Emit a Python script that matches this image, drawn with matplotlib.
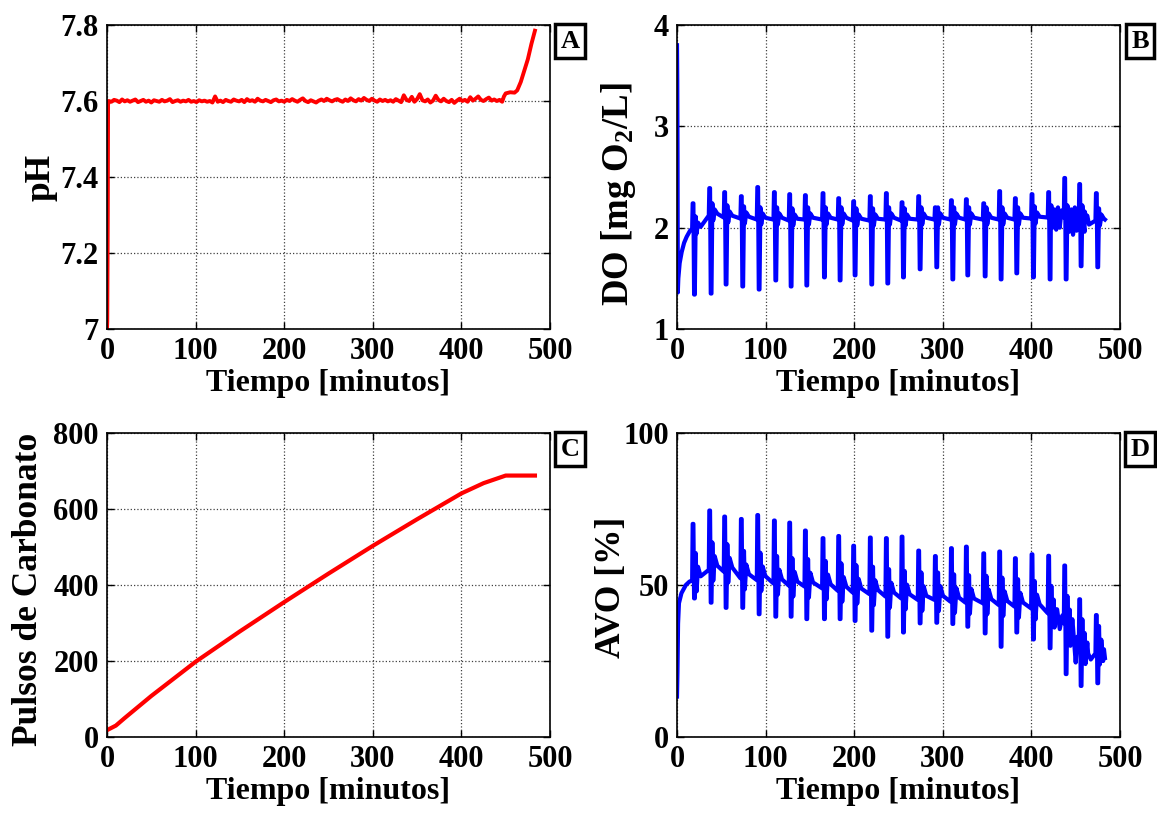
import numpy as np
import matplotlib
matplotlib.use('Agg')
import matplotlib.pyplot as plt
from matplotlib.ticker import FormatStrFormatter

plt.rcParams['font.family'] = 'Liberation Serif'
plt.rcParams['font.weight'] = 'bold'
plt.rcParams['mathtext.fontset'] = 'custom'
plt.rcParams['mathtext.rm'] = 'Liberation Serif:bold'
plt.rcParams['mathtext.it'] = 'Liberation Serif:bold'
plt.rcParams['mathtext.bf'] = 'Liberation Serif:bold'

# ---- pH (panel A) ----
ph_start_t = [0.0, 0.3, 0.9, 1.2]
ph_start_v = [7.00, 7.02, 7.31, 7.59]
ph_noise_t = list(range(2, 447, 3))
ph_noise_v = [7.600, 7.598, 7.603, 7.601, 7.597, 7.604, 7.599, 7.602, 7.598, 7.601,
              7.604, 7.597, 7.600, 7.603, 7.598, 7.601, 7.596, 7.602, 7.600, 7.598,
              7.603, 7.599, 7.601, 7.605, 7.597, 7.600, 7.602, 7.598, 7.601, 7.599,
              7.603, 7.598, 7.600, 7.597, 7.602, 7.599, 7.601, 7.598, 7.600, 7.596,
              7.612, 7.598, 7.601, 7.597, 7.603, 7.600, 7.598, 7.604, 7.601, 7.599,
              7.603, 7.597, 7.605, 7.600, 7.602, 7.598, 7.606, 7.601, 7.599, 7.603,
              7.600, 7.597, 7.602, 7.604, 7.599, 7.601, 7.598, 7.603, 7.600, 7.605,
              7.601, 7.598, 7.603, 7.607, 7.600, 7.597, 7.602, 7.599, 7.596, 7.601,
              7.604, 7.600, 7.606, 7.602, 7.599, 7.603, 7.605, 7.601, 7.598, 7.604,
              7.600, 7.607, 7.602, 7.599, 7.605, 7.601, 7.608, 7.603, 7.600, 7.606,
              7.601, 7.598, 7.604, 7.600, 7.603, 7.599, 7.602, 7.598, 7.605, 7.601,
              7.597, 7.615, 7.603, 7.600, 7.611, 7.598, 7.605, 7.618, 7.602, 7.599,
              7.604, 7.596, 7.601, 7.614, 7.603, 7.599, 7.606, 7.600, 7.597, 7.603,
              7.595, 7.601, 7.606, 7.600, 7.603, 7.598, 7.610, 7.601, 7.606, 7.612,
              7.603, 7.600, 7.605, 7.609, 7.601, 7.604, 7.600, 7.603, 7.598]
ph_end_t = [448, 450, 455, 460, 463, 467, 471, 475, 479, 483]
ph_end_v = [7.612, 7.620, 7.623, 7.622, 7.628, 7.650, 7.680, 7.710, 7.750, 7.785]

# ---- Pulsos de carbonato (panel C) ----
pul_t = [0, 10, 20, 50, 100, 150, 200, 250, 300, 350, 400, 425, 440, 450, 483]
pul_v = [18, 30, 50, 108, 198, 278, 355, 430, 503, 573, 641, 668, 680, 688, 688]

# ---- spikes shared by DO and AVO ----
spike_t = [17.7, 36.5, 53.4, 72.2, 90.7, 109.5, 126.8, 144.5, 164.4, 182.1,
           199.0, 217.8, 235.9, 253.6, 272.4, 291.2, 309.3, 326.2, 345.8, 363.8,
           381.5, 400.3, 419.1, 437.2, 454.1, 472.9]

# DO (panel B)
do_start_t = [0.0, 0.3, 0.6, 0.9, 1.5, 3.0, 5.3, 8.0, 10.9, 14.7]
do_start_v = [3.80, 3.45, 2.70, 1.36, 1.50, 1.65, 1.76, 1.85, 1.91, 1.97]
do_base = [1.99, 2.12, 2.10, 2.09, 2.08, 2.08, 2.07, 2.08, 2.08, 2.08,
           2.07, 2.07, 2.08, 2.07, 2.08, 2.08, 2.08, 2.08, 2.08, 2.08,
           2.08, 2.09, 2.10, 2.10, 2.10, 2.07]
do_top = [2.24, 2.39, 2.35, 2.31, 2.40, 2.35, 2.33, 2.32, 2.34, 2.29,
          2.26, 2.31, 2.34, 2.25, 2.31, 2.20, 2.27, 2.28, 2.24, 2.36,
          2.29, 2.33, 2.35, 2.49, 2.43, 2.34]
do_bot = [1.34, 1.35, 1.44, 1.42, 1.39, 1.48, 1.42, 1.43, 1.51, 1.48,
          1.53, 1.44, 1.45, 1.51, 1.59, 1.61, 1.49, 1.53, 1.52, 1.49,
          1.55, 1.51, 1.49, 1.49, 1.62, 1.61]
do_noise_t = [422, 424, 426, 428, 430, 432, 434, 441, 443, 445, 447, 449, 451, 458, 460, 462, 465]
do_noise_v = [2.15, 2.00, 2.18, 1.98, 2.20, 2.00, 2.17, 2.20, 1.96, 2.18, 1.93, 2.20, 1.97, 2.15, 1.96, 2.10, 2.03]
do_end_t = [478, 481, 483]
do_end_v = [2.06, 2.10, 2.08]

# AVO (panel D)
avo_start_t = [0.0, 0.5, 1.2, 2.2, 5.0, 10.0, 14.0]
avo_start_v = [13.3, 21.3, 37.3, 44.0, 47.3, 50.0, 51.1]
avo_base = [51.5, 55.0, 54.4, 52.2, 51.6, 50.5, 49.8, 49.5, 48.9, 48.1,
            47.5, 47.0, 46.2, 45.6, 45.1, 45.1, 44.5, 44.2, 44.0, 43.4,
            42.9, 42.3, 40.7, 37.4, 29.7, 27.5]
avo_top = [70.1, 74.5, 72.5, 71.7, 73.0, 71.2, 70.5, 67.9, 65.4, 66.1,
           62.9, 65.6, 65.4, 65.9, 61.3, 59.5, 62.1, 62.6, 60.4, 61.0,
           58.8, 60.1, 59.6, 56.4, 45.3, 40.1]
avo_bot = [45.6, 44.2, 42.5, 42.5, 40.4, 39.6, 39.6, 38.8, 38.8, 38.8,
           38.2, 35.0, 33.0, 34.4, 37.4, 37.6, 37.2, 36.3, 34.1, 29.7,
           34.4, 32.1, 29.2, 20.7, 16.8, 17.7]
avo_noise_t = [423, 426, 429, 432, 435, 441, 444, 447, 450, 452, 458, 461, 464, 467]
avo_noise_v = [44.0, 36.0, 42.0, 35.5, 40.0, 40.0, 30.0, 36.0, 24.5, 33.0, 30.0, 24.0, 27.5, 25.5]
avo_end_t = [478, 481, 483]
avo_end_v = [26.5, 25.0, 26.0]


def spiky(start_t, start_v, base, top, bot, noise_t, noise_v, end_t, end_v, bump):
    # assemble the polyline from the read-off spike extremes
    t = list(start_t)
    v = list(start_v)
    for i, ts in enumerate(spike_t):
        b = base[i]
        t += [ts - 0.6, ts, ts + 0.8, ts + 1.6, ts + 2.4, ts + 3.4, ts + 4.4, ts + 6.0, ts + 9.0]
        v += [b, top[i], top[i], bot[i], bot[i], b + bump, b - bump * 0.4, b + bump * 0.5, b + bump * 0.15]
    t += list(noise_t) + list(end_t)
    v += list(noise_v) + list(end_v)
    order = np.argsort(t, kind='stable')
    return np.array(t)[order], np.array(v)[order]


fig = plt.figure(figsize=(11.57, 8.13), dpi=100)
W, H = 1157, 813
boxes = {'A': (107, 25), 'B': (677, 25), 'C': (107, 433), 'D': (677, 433)}
axes = {}
for k, (x0, y0) in boxes.items():
    axes[k] = fig.add_axes([x0 / W, 1 - (y0 + 304) / H, 443 / W, 304 / H])

tick_fs = 22
lab_fs = 23
ylab_fs = 25.5

for k, ax in axes.items():
    ax.set_xlim(0, 500)
    ax.set_xticks([0, 100, 200, 300, 400, 500])
    ax.grid(True, linestyle=':', color='black', linewidth=0.9, alpha=0.75)
    ax.tick_params(direction='in', top=True, right=True, labelsize=tick_fs, length=5, width=1, pad=6)
    for s in ax.spines.values():
        s.set_linewidth(1.2)
    ax.set_xlabel('Tiempo [minutos]', fontsize=lab_fs, fontweight='bold', labelpad=2)
    x0, y0 = boxes[k]
    fig.text((x0 + 463) / W, 1 - (y0 + 16) / H, k, fontsize=19, fontweight='bold',
             ha='center', va='center',
             bbox=dict(facecolor='white', edgecolor='black', linewidth=2.5, boxstyle='square,pad=0.2'))

# A
ax = axes['A']
ax.plot(ph_start_t + ph_noise_t + ph_end_t, ph_start_v + ph_noise_v + ph_end_v, color='red', linewidth=2.8)
ax.set_ylim(7, 7.8)
ax.set_yticks([7, 7.2, 7.4, 7.6, 7.8])
ax.yaxis.set_major_formatter(FormatStrFormatter('%g'))
ax.set_ylabel('pH', fontsize=ylab_fs, fontweight='bold', va='center')
ax.yaxis.set_label_coords(-0.149, 0.5)

# B
ax = axes['B']
tb, vb = spiky(do_start_t, do_start_v, do_base, do_top, do_bot, do_noise_t, do_noise_v, do_end_t, do_end_v, 0.12)
ax.plot(tb, vb, color='blue', linewidth=3.0)
ax.set_ylim(1, 4)
ax.set_yticks([1, 2, 3, 4])
ax.set_ylabel(r'DO [mg O$_2$/L]', fontsize=26.5, fontweight='bold', va='center')
ax.yaxis.set_label_coords(-0.131, 0.444)

# C
ax = axes['C']
ax.plot(pul_t, pul_v, color='red', linewidth=3.0)
ax.set_ylim(0, 800)
ax.set_yticks([0, 200, 400, 600, 800])
ax.set_ylabel('Pulsos de Carbonato', fontsize=ylab_fs, fontweight='bold', va='center')
ax.yaxis.set_label_coords(-0.177, 0.487)

# D
ax = axes['D']
td, vd = spiky(avo_start_t, avo_start_v, avo_base, avo_top, avo_bot, avo_noise_t, avo_noise_v, avo_end_t, avo_end_v, 9.0)
ax.plot(td, vd, color='blue', linewidth=3.0)
ax.set_ylim(0, 100)
ax.set_yticks([0, 50, 100])
ax.set_ylabel('AVO [%]', fontsize=ylab_fs, fontweight='bold', va='center')
ax.yaxis.set_label_coords(-0.147, 0.493)

fig.savefig('out.png', dpi=100)
